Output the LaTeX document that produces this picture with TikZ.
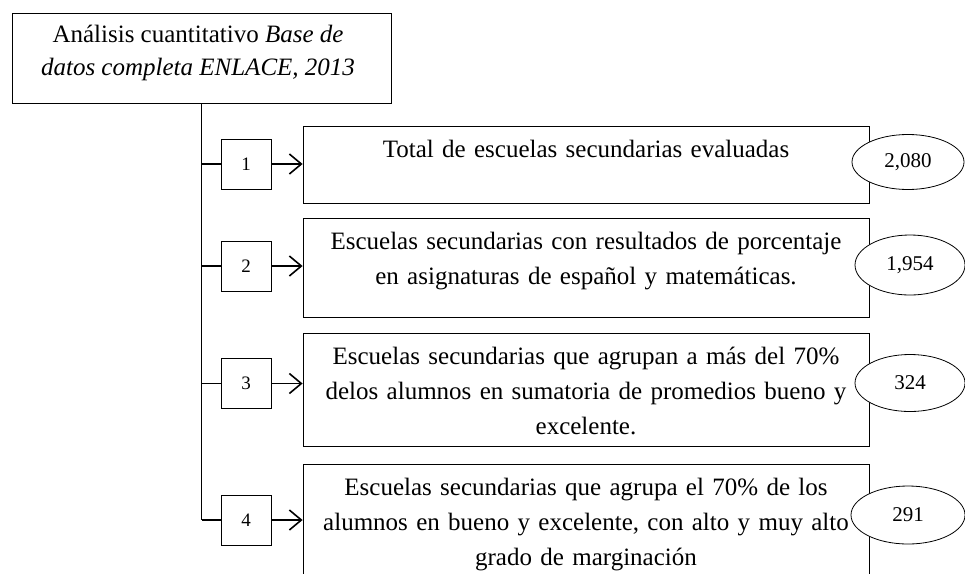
\documentclass[tikz,border=0pt]{standalone}
\usepackage{fontspec}
\setmainfont{Liberation Serif}
\usetikzlibrary{arrows.meta,shapes.geometric,calc}
\begin{document}
\begin{tikzpicture}[x=1pt,y=-1pt,
  mainbox/.style={draw, line width=0.8pt, minimum width=566pt, inner sep=0pt},
  boxtext/.style={anchor=north, inner sep=0pt, text width=560pt, align=center,
    font=\fontsize{25}{35}\selectfont},
  numbox/.style={draw, line width=0.8pt, minimum width=50pt, minimum height=50pt, inner sep=0pt,
    font=\fontsize{19}{22}\selectfont},
  countell/.style={draw, fill=white, ellipse, line width=0.8pt, inner sep=0pt,
    font=\fontsize{21}{24}\selectfont},
  branch/.style={line width=1.6pt},
  trunk/.style={line width=1.2pt},
  arr/.style={line width=1.6pt, -{Straight Barb[length=12pt,width=20pt,line width=1.6pt]}}
]
\useasboundingbox (0,0) rectangle (965,573);

% top box
\node[draw, line width=0.8pt, minimum width=379pt, minimum height=90pt, inner sep=0pt] (top) at (201.5,58) {};
\node[inner sep=0pt, align=center, font=\fontsize{25}{33}\selectfont, anchor=base] (toptext) at (198,75)
  {Análisis cuantitativo \textit{Base de}\\ \textit{datos completa ENLACE, 2013}};

% main boxes
\node[mainbox, minimum height=77pt] (b1) at (586,164.5) {};
\node[mainbox, minimum height=99pt] (b2) at (586,267.5) {};
\node[mainbox, minimum height=113pt] (b3) at (586,389.5) {};
\node[mainbox, minimum height=130pt] (b4) at (586,529) {};

\node[boxtext] (t1) at ([yshift=-7.5pt]b1.north) {\strut Total de escuelas secundarias evaluadas};
\node[boxtext] (t2) at ([yshift=-7.5pt]b2.north) {\strut Escuelas secundarias con resultados de porcentaje\\ en asignaturas de español y matemáticas.};
\node[boxtext] (t3) at ([yshift=-7.5pt]b3.north) {\strut Escuelas secundarias que agrupan a más del 70\%\\ delos alumnos en sumatoria de promedios bueno y\\ excelente.};
\node[boxtext] (t4) at ([yshift=-7.5pt]b4.north) {\strut Escuelas secundarias que agrupa el 70\% de los\\ alumnos en bueno y excelente, con alto y muy alto\\ grado de marginación};

% number boxes
\node[numbox] (n1) at (246,164) {1};
\node[numbox] (n2) at (246,266) {2};
\node[numbox] (n3) at (246,383.5) {3};
\node[numbox] (n4) at (246,520) {4};

% trunk and branches
\draw[trunk] (top.south) -- (top.south |- n4.west);
\foreach \i in {1,2,3,4} {
  \draw[branch] (top.south |- n\i.west) -- (n\i.west);
  \draw[arr] (n\i.east) -- (n\i.east -| b\i.west);
}

% count ellipses
\node[countell, minimum width=112pt, minimum height=55pt] (e1) at (908,162) {2,080};
\node[countell, minimum width=110pt, minimum height=60pt] (e2) at (910,265) {1,954};
\node[countell, minimum width=110pt, minimum height=57pt] (e3) at (910,383) {324};
\node[countell, minimum width=114pt, minimum height=58pt] (e4) at (908,515) {291};
\end{tikzpicture}
\end{document}
